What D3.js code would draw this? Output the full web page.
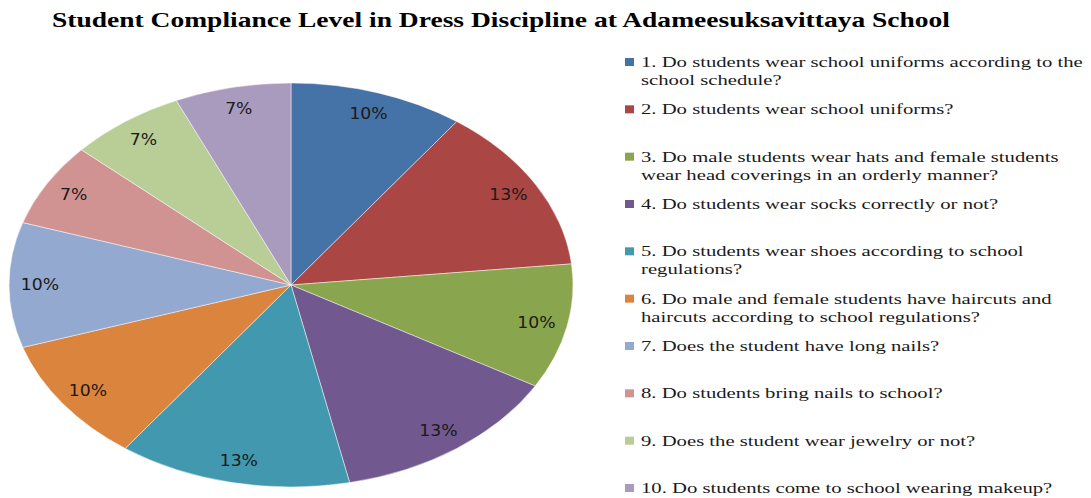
<!DOCTYPE html>
<html>
<head>
<meta charset="utf-8">
<script src="https://cdn.jsdelivr.net/npm/d3@7"></script>
<style>
  body { margin: 0; background: #fff; }
  svg { display: block; }
</style>
</head>
<body>
<svg></svg>
<script>
let width = 1091;
let height = 498;
let svg = d3.select("svg")
            .attr("width", width)
            .attr("height", height);

// counts out of 30 -> 10% / 13% / 7%
let questions = [
  ["1. Do students wear school uniforms according to the", "school schedule?"],
  ["2. Do students wear school uniforms?"],
  ["3. Do male students wear hats and female students", "wear head coverings in an orderly manner?"],
  ["4. Do students wear socks correctly or not?"],
  ["5. Do students wear shoes according to school", "regulations?"],
  ["6. Do male and female students have haircuts and", "haircuts according to school regulations?"],
  ["7. Does the student have long nails?"],
  ["8. Do students bring nails to school?"],
  ["9. Does the student wear jewelry or not?"],
  ["10. Do students come to school wearing makeup?"]
];
let counts = [3, 4, 3, 4, 4, 3, 3, 2, 2, 2];
let percentLabels = ["10%", "13%", "10%", "13%", "13%", "10%", "10%", "7%", "7%", "7%"];
let colors = ["#4572A7", "#AA4643", "#89A54E", "#71588F", "#4198AF",
              "#DB843D", "#93A9CF", "#D19392", "#B9CD96", "#A99BBD"];

let data = counts.map((c, i) => ({ count: c, label: percentLabels[i], lines: questions[i], color: colors[i] }));

// title
svg.append("text")
   .attr("x", 52)
   .attr("y", 27)
   .attr("font-family", "'Liberation Serif', 'Times New Roman', serif")
   .attr("font-weight", "bold")
   .attr("font-size", 21)
   .attr("fill", "#000")
   .attr("textLength", 898)
   .attr("lengthAdjust", "spacingAndGlyphs")
   .text("Student Compliance Level in Dress Discipline at Adameesuksavittaya School");

// pie (an ellipse: circle stretched sideways)
let cx = 291, cy = 285;
let ry = 202, rx = 282;

let pie = d3.pie()
            .value((d) => { return d.count; })
            .sort(null);

let arc = d3.arc().innerRadius(0).outerRadius(ry);
let labelArc = d3.arc().innerRadius(ry * 0.89).outerRadius(ry * 0.89);

let arcs = pie(data);

let pieG = svg.append("g")
              .attr("transform", "translate(" + cx + "," + cy + ") scale(" + (rx / ry) + ",1)");

pieG.selectAll("path")
    .data(arcs)
    .enter()
    .append("path")
    .attr("d", arc)
    .attr("fill", (d) => { return d.data.color; })
    .attr("stroke", "#fff")
    .attr("stroke-width", 0.4);

svg.append("g")
   .attr("transform", "translate(" + cx + "," + cy + ")")
   .selectAll("text")
   .data(arcs)
   .enter()
   .append("text")
   .attr("transform", (d) => {
     let c = labelArc.centroid(d);
     return "translate(" + (c[0] * rx / ry) + "," + c[1] + ") scale(1.15,1)";
   })
   .attr("text-anchor", "middle")
   .attr("dy", "0.35em")
   .attr("font-family", "'DejaVu Sans', Verdana, sans-serif")
   .attr("font-size", 15)
   .attr("fill", "#1a1a1a")
   .text((d) => { return d.data.label; });

// legend
let legY = d3.scaleLinear().domain([0, 9]).range([62, 488]);
let stretch = 1.38;

let legend = svg.append("g")
                .selectAll("g")
                .data(data)
                .enter()
                .append("g")
                .attr("transform", (d, i) => { return "translate(625," + legY(i) + ")"; });

legend.append("rect")
      .attr("x", 0)
      .attr("y", -4)
      .attr("width", 9)
      .attr("height", 8)
      .attr("fill", (d) => { return d.color; });

legend.append("text")
      .attr("transform", "translate(16,5) scale(" + stretch + ",1)")
      .attr("font-family", "'Liberation Serif', 'Times New Roman', serif")
      .attr("font-size", 15)
      .attr("fill", "#1a1a1a")
      .selectAll("tspan")
      .data((d) => { return d.lines; })
      .enter()
      .append("tspan")
      .attr("x", 0)
      .attr("dy", (d, i) => { return i === 0 ? 0 : 18; })
      .text((d) => { return d; });
</script>
</body>
</html>
